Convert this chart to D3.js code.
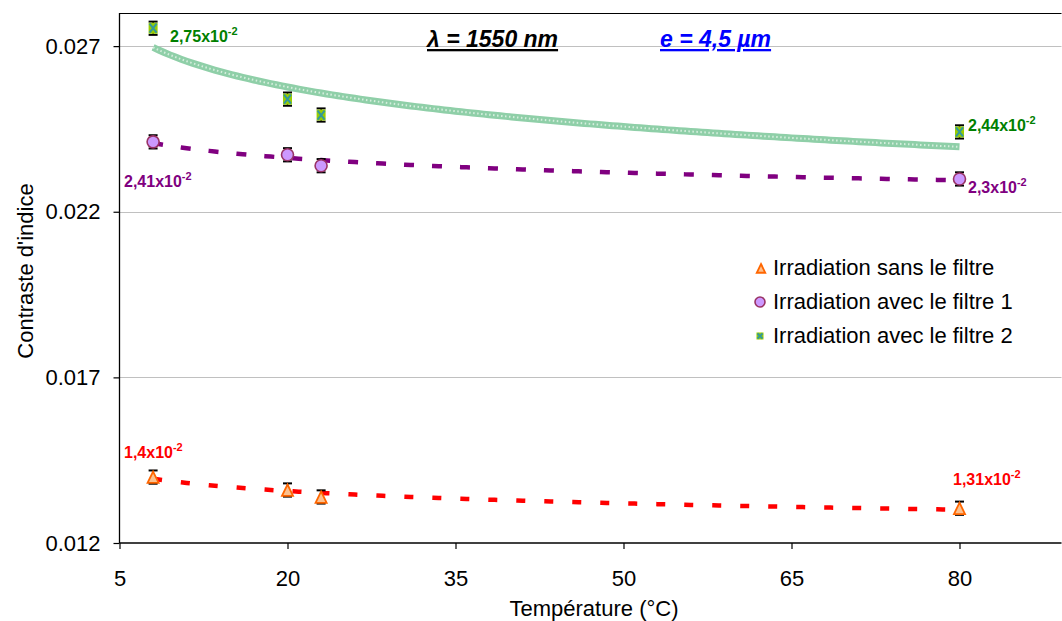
<!DOCTYPE html>
<html><head><meta charset="utf-8">
<script src="https://cdn.jsdelivr.net/npm/d3@7"></script>
<style>body{margin:0;background:#fff}svg{display:block;font-family:"Liberation Sans",Arial,sans-serif}</style>
</head><body><svg id="c" width="1062" height="621"></svg>
<script>
const temperatures = [8, 20, 23, 80];
const sansFiltre = [0.01399, 0.01360, 0.01339, 0.01305];
const filtre1 = [0.02411, 0.02372, 0.02339, 0.02299];
const filtre2 = [0.02754, 0.02540, 0.02492, 0.02441];
const errBar = 0.0002;
const xTicks = [5, 20, 35, 50, 65, 80];
const yTicks = [0.012, 0.017, 0.022, 0.027];
const seriesNames = ["Irradiation sans le filtre", "Irradiation avec le filtre 1", "Irradiation avec le filtre 2"];

const svg = d3.select("#c");
const L = 119.5, R = 1061.5, T = 13, B = 543;
const x = d3.scaleLinear().domain([5, 5 + (R - L) / 11.2]).range([L, R]);
const y = d3.scaleLinear().domain([0.012, 0.028]).range([B, T]);

// grid
svg.append("g").selectAll("line").data(yTicks.slice(1)).join("line")
  .attr("x1", L).attr("x2", R).attr("y1", d => Math.round(y(d)) + 0.5).attr("y2", d => Math.round(y(d)) + 0.5)
  .attr("stroke", "#c0c0c0").attr("stroke-width", 1);
// frame top
svg.append("line").attr("x1", L).attr("x2", R).attr("y1", T + 0.5).attr("y2", T + 0.5).attr("stroke", "#000");

// axes
const yAxis = svg.append("g").attr("transform", `translate(${L},0)`)
  .call(d3.axisLeft(y).tickValues(yTicks).tickSize(6).tickPadding(13).tickFormat(d3.format(".3f")));
const xAxis = svg.append("g").attr("transform", `translate(0,${B})`)
  .call(d3.axisBottom(x).tickValues(xTicks).tickSize(6).tickPadding(21).tickFormat(d3.format("d")));
[yAxis, xAxis].forEach(a => {
  a.select(".domain").attr("stroke", "#000").attr("stroke-width", 1.3);
  a.selectAll(".tick line").attr("stroke", "#000").attr("stroke-width", 1.2);
  a.selectAll("text").attr("font-size", 22).attr("fill", "#000").attr("font-family", "Liberation Sans, Arial");
});
xAxis.select(".domain").attr("d", `M${L},0H${R}`);
yAxis.select(".domain").attr("d", `M0,${T}V${B}`);

// logarithmic trend lines (least squares in ln x)
function logFit(xs, ys) {
  const lx = xs.map(Math.log);
  const mx = d3.mean(lx), my = d3.mean(ys);
  const b = d3.sum(lx, (v, i) => (v - mx) * (ys[i] - my)) / d3.sum(lx, v => (v - mx) * (v - mx));
  const a = my - b * mx;
  return t => a + b * Math.log(t);
}
const fitPts = d3.range(8, 80.01, 0.5);
const line = d3.line().x(d => x(d[0])).y(d => y(d[1]));
function trend(vals, style) {
  const f = logFit(temperatures, vals);
  const p = svg.append("path").datum(fitPts.map(t => [t, f(t)])).attr("d", line).attr("fill", "none");
  Object.entries(style).forEach(([k, v]) => p.attr(k, v));
  return f;
}
trend(filtre2, {stroke: "#8fcfa8", "stroke-width": 7});
trend(filtre2, {stroke: "#d5eedd", "stroke-width": 2, "stroke-dasharray": "1.5,2.5"});
trend(filtre1, {stroke: "#800080", "stroke-width": 4.5, "stroke-dasharray": "10,18"});
trend(sansFiltre, {stroke: "#ff0000", "stroke-width": 4.5, "stroke-dasharray": "9,19"});

// error bars
function errBars(vals) {
  const g = svg.append("g").attr("stroke", "#000").attr("stroke-width", 1.5);
  temperatures.forEach((t, i) => {
    const cx = x(t), y1 = y(vals[i] + errBar), y2 = y(vals[i] - errBar);
    g.append("line").attr("x1", cx).attr("x2", cx).attr("y1", y1).attr("y2", y2);
    g.append("line").attr("x1", cx - 4.5).attr("x2", cx + 4.5).attr("y1", y1).attr("y2", y1).attr("stroke-width", 2);
    g.append("line").attr("x1", cx - 4.5).attr("x2", cx + 4.5).attr("y1", y2).attr("y2", y2).attr("stroke-width", 2);
  });
}
errBars(sansFiltre); errBars(filtre1); errBars(filtre2);

// markers
function triangle(g, cx, cy, s) {
  g.append("path").attr("d", `M${cx},${cy - s}L${cx + s * 0.85},${cy + s * 0.75}L${cx - s * 0.85},${cy + s * 0.75}Z`)
    .attr("fill", "#fbc08e").attr("stroke", "#ff6600").attr("stroke-width", 1.8);
}
function circle(g, cx, cy, r) {
  g.append("circle").attr("cx", cx).attr("cy", cy).attr("r", r)
    .attr("fill", "#cc99ff").attr("stroke", "#993366").attr("stroke-width", 1.6);
}
function xsq(g, cx, cy, w, h) {
  g.append("rect").attr("x", cx - w / 2).attr("y", cy - h / 2).attr("width", w).attr("height", h).attr("fill", "#99cc00");
  g.append("path").attr("d", `M${cx - w / 2 + 1},${cy - h / 2 + 1}L${cx + w / 2 - 1},${cy + h / 2 - 1}M${cx + w / 2 - 1},${cy - h / 2 + 1}L${cx - w / 2 + 1},${cy + h / 2 - 1}`)
    .attr("stroke", "#339999").attr("stroke-width", 2);
}
const mk = svg.append("g");
temperatures.forEach((t, i) => triangle(mk, x(t), y(sansFiltre[i]) + 1, 6.5));
temperatures.forEach((t, i) => circle(mk, x(t), y(filtre1[i]), 6));
temperatures.forEach((t, i) => xsq(mk, x(t), y(filtre2[i]), 9, 11));

// value labels
function label(txt, px, py, color) {
  const t = svg.append("text").attr("x", px).attr("y", py).attr("fill", color)
    .attr("font-size", 16).attr("font-weight", "bold");
  t.append("tspan").text(txt);
  t.append("tspan").text("-2").attr("font-size", 11).attr("dy", -7);
}
label("2,75x10", 170, 42, "#008000");
label("2,44x10", 968, 131, "#008000");
label("2,41x10", 124, 187, "#800080");
label("2,3x10", 968, 193, "#800080");
label("1,4x10", 124, 458, "#ff0000");
label("1,31x10", 953, 485, "#ff0000");

// titles
const t1 = svg.append("text").attr("x", 427).attr("y", 47).attr("font-size", 23).attr("font-weight", "bold")
  .attr("font-style", "italic").attr("text-decoration", "underline").attr("fill", "#000").text("λ = 1550 nm");
svg.append("text").attr("x", 660).attr("y", 47).attr("font-size", 23).attr("font-weight", "bold")
  .attr("font-style", "italic").attr("text-decoration", "underline").attr("fill", "#0000ff").text("e = 4,5 µm");

// axis titles
svg.append("text").attr("x", 594).attr("y", 616).attr("text-anchor", "middle").attr("font-size", 22).text("Température (°C)");
svg.append("text").attr("transform", "translate(33,271) rotate(-90)").attr("text-anchor", "middle").attr("font-size", 22).text("Contraste d'indice");

// legend
const lg = svg.append("g");
const ly = [268, 302, 336];
triangle(lg, 761, ly[0] + 1, 5);
circle(lg, 760, ly[1], 5);
xsq(lg, 760, ly[2], 7, 7);
lg.selectAll("text").data(seriesNames).join("text")
  .attr("x", 773).attr("y", (d, i) => ly[i] + 7).attr("font-size", 22).attr("fill", "#000").text(d => d);
</script></body></html>
